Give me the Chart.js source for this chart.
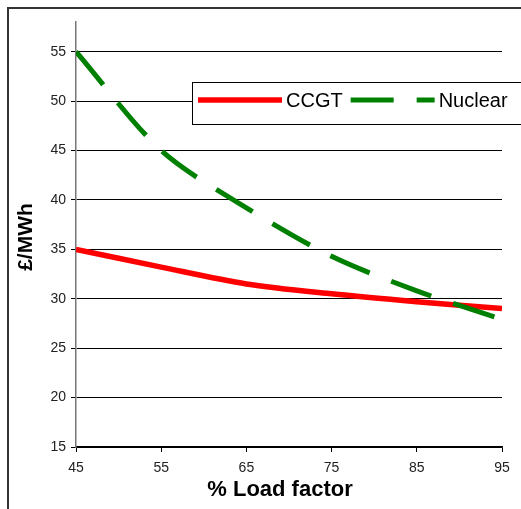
<!DOCTYPE html>
<html>
<head>
<meta charset="utf-8">
<script src="https://cdn.jsdelivr.net/npm/chart.js@4.4.1/dist/chart.umd.min.js"></script>
<style>
  html, body { margin: 0; padding: 0; background: #fff; }
  #wrap { position: relative; width: 521px; height: 509px; overflow: hidden; }
  #frame {
    position: absolute; left: 7px; top: 7px; width: 600px; height: 600px;
    border-left: 2px solid #333; border-top: 2px solid #333;
  }
  canvas { position: absolute; left: 0; top: 0; }
</style>
</head>
<body>
<div id="wrap">
  <div id="frame"></div>
  <canvas id="costChart" width="521" height="509"></canvas>
</div>
<script>
const loadFactor = [45, 55, 65, 75, 85, 95];
const ccgtCost = [35.0, 33.2, 31.5, 30.5, 29.7, 29.0];
const nuclearCost = [55.0, 45.0, 39.2, 34.3, 30.8, 27.9];
const xTicks = [45, 55, 65, 75, 85, 95];
const yTicks = [15, 20, 25, 30, 35, 40, 45, 50, 55];
const seriesNames = ["CCGT", "Nuclear"];
const X_TITLE = "% Load factor";
const Y_TITLE = "£/MWh";

const FONT = "'Liberation Sans', Arial, sans-serif";

function toPoints(values) {
  return loadFactor.map((x, i) => ({ x: x, y: values[i] }));
}

// axis titles and the boxed legend sit where the original had them
const overlay = {
  id: "overlay",
  afterDraw(chart) {
    const ctx = chart.ctx;
    ctx.save();
    ctx.fillStyle = "#000";
    ctx.textBaseline = "middle";
    ctx.textAlign = "center";
    ctx.font = `bold 22px ${FONT}`;
    ctx.fillText(X_TITLE, 280, 490);

    ctx.save();
    ctx.translate(26, 237);
    ctx.rotate(-Math.PI / 2);
    ctx.font = `bold 21px ${FONT}`;
    ctx.fillText(Y_TITLE, 0, 0);
    ctx.restore();

    // legend box
    ctx.fillStyle = "#fff";
    ctx.fillRect(192.5, 82.5, 340, 42);
    ctx.strokeStyle = "#000";
    ctx.lineWidth = 1;
    ctx.strokeRect(192.5, 82.5, 340, 42);

    ctx.font = `20px ${FONT}`;
    ctx.textAlign = "left";
    let x = 198;
    const y = 100;
    chart.data.datasets.forEach((ds) => {
      ctx.save();
      ctx.strokeStyle = ds.borderColor;
      ctx.lineWidth = ds.borderWidth;
      ctx.lineCap = "butt";
      ctx.setLineDash(ds.borderDash || []);
      ctx.beginPath();
      ctx.moveTo(x, y);
      ctx.lineTo(x + 84, y);
      ctx.stroke();
      ctx.restore();
      x += 88;
      ctx.fillStyle = "#000";
      ctx.fillText(ds.label, x, y + 1);
      x += ctx.measureText(ds.label).width + 8;
    });
    ctx.restore();
  },
};

const ctx = document.getElementById("costChart").getContext("2d");
new Chart(ctx, {
  type: "line",
  data: {
    datasets: [
      {
        label: seriesNames[0],
        data: toPoints(ccgtCost),
        borderColor: "#ff0000",
        borderWidth: 5.5,
        tension: 0.3,
        pointRadius: 0,
        order: 1,
      },
      {
        label: seriesNames[1],
        data: toPoints(nuclearCost),
        borderColor: "#008000",
        borderWidth: 5,
        borderDash: [43, 23],
        borderCapStyle: "butt",
        tension: 0.3,
        pointRadius: 0,
        order: 0,
      },
    ],
  },
  options: {
    responsive: false,
    animation: false,
    layout: { padding: { top: 22, right: 19, left: 0, bottom: 0 } },
    scales: {
      x: {
        type: "linear",
        min: 45,
        max: 95,
        afterBuildTicks: (scale) => {
          scale.ticks = xTicks.map((v) => ({ value: v }));
        },
        afterFit: (scale) => {
          scale.height = 62;
        },
        grid: { drawOnChartArea: false, drawTicks: true, tickLength: 5, color: "#000" },
        border: { color: "#000", width: 1.5 },
        ticks: { color: "#222", font: { size: 14, family: FONT }, padding: 8, maxRotation: 0 },
      },
      y: {
        type: "linear",
        min: 15,
        max: 58,
        afterBuildTicks: (scale) => {
          scale.ticks = yTicks.map((v) => ({ value: v }));
        },
        afterFit: (scale) => {
          scale.width = 76;
        },
        grid: { color: "#000", lineWidth: 1, drawTicks: true, tickLength: 5 },
        border: { color: "#777", width: 1.5 },
        ticks: { color: "#222", font: { size: 14, family: FONT }, padding: 5 },
      },
    },
    plugins: {
      legend: { display: false },
      tooltip: { enabled: false },
    },
  },
  plugins: [overlay],
});
</script>
</body>
</html>
